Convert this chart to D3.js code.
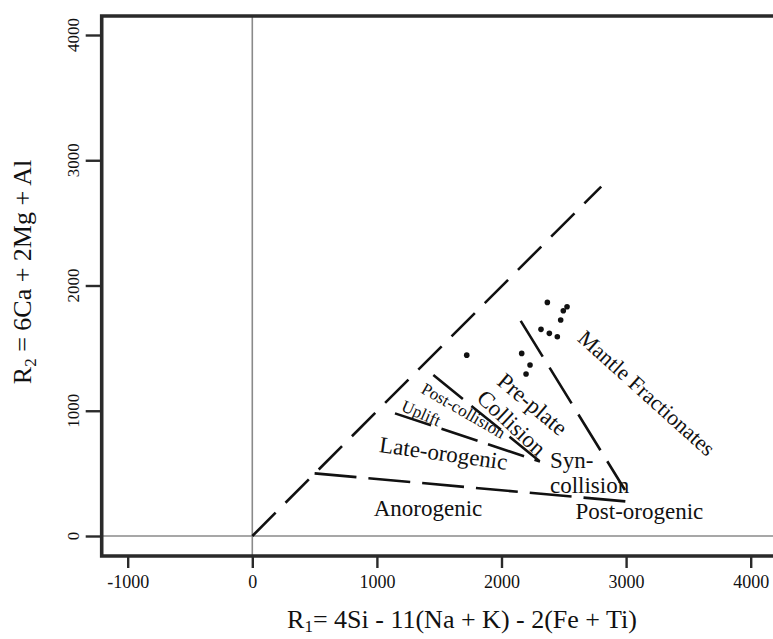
<!DOCTYPE html>
<html><head><meta charset="utf-8">
<script src="https://cdn.jsdelivr.net/npm/d3@7"></script>
<style>
body{margin:0;background:#fff}
svg{display:block}
text{font-family:"Liberation Serif","Times New Roman",serif;fill:#111}
</style>
</head><body>
<svg id="c" width="773" height="639"></svg>
<script>
// ---- data ----
const xTicks = [-1000, 0, 1000, 2000, 3000, 4000];
const yTicks = [0, 1000, 2000, 3000, 4000];
const sampleR1 = [2368, 2526, 2496, 2475, 2317, 2384, 2448, 1721, 2162, 2229, 2197];
const sampleR2 = [1865, 1830, 1798, 1724, 1650, 1618, 1591, 1444, 1458, 1365, 1293];
const boundaryNames = ["diagonal", "base", "mantle", "uplift", "postCollision"];
const boundaryX1 = [0, 500, 2154, 1145, 1453];
const boundaryY1 = [0, 500, 1718, 979, 1285];
const boundaryX2 = [2800, 3018, 2991, 2309, 2309];
const boundaryY2 = [2790, 274, 367, 595, 595];
const fieldNames = ["Anorogenic", "Post-orogenic", "Syn-", "collision", "Late-orogenic", "Uplift", "Post-collision", "Collision", "Pre-plate", "Mantle Fractionates"];
const fieldR1 = [1410, 3107, 2389, 2389, 1526, 1337, 1671, 2038, 2208, 3125];
const fieldR2 = [156, 134, 540, 341, 600, 939, 962, 858, 1005, 1097];

// ---- styles ----
const fieldStyle = [
  {a:0, s:23, anchor:"middle"}, {a:0, s:23, anchor:"middle"},
  {a:0, s:23, anchor:"start"}, {a:0, s:23, anchor:"start"},
  {a:8, s:23, anchor:"middle"}, {a:24, s:17, anchor:"middle"},
  {a:30, s:17, anchor:"middle"}, {a:43, s:23, anchor:"middle"},
  {a:40, s:23, anchor:"middle"}, {a:42, s:22, anchor:"middle"}
];
const dashStyle = ["33,14", "42,12", "42,13", "38,11", "38,11"];

const svg = d3.select("#c");
const x = d3.scaleLinear().domain([-1000, 4000]).range([127.7, 750.7]);
const y = d3.scaleLinear().domain([0, 4000]).range([536, 35]);

const frameXMin = x.invert(101.7), frameXMax = x.invert(790);
const frameYMin = y.invert(556), frameYMax = y.invert(16);

// reference lines at zero
svg.append("line").attr("x1", x(0)).attr("x2", x(0)).attr("y1", y(frameYMax)).attr("y2", y(frameYMin))
  .attr("stroke", "#8a8a8a").attr("stroke-width", 1.6);
svg.append("line").attr("x1", x(frameXMin)).attr("x2", x(frameXMax)).attr("y1", y(0)).attr("y2", y(0))
  .attr("stroke", "#8a8a8a").attr("stroke-width", 1.6);

// boundaries
svg.append("g").selectAll("line").data(boundaryNames).join("line")
  .attr("x1", (d,i) => x(boundaryX1[i])).attr("y1", (d,i) => y(boundaryY1[i]))
  .attr("x2", (d,i) => x(boundaryX2[i])).attr("y2", (d,i) => y(boundaryY2[i]))
  .attr("stroke", "#111").attr("stroke-width", 2.6)
  .attr("stroke-dasharray", (d,i) => dashStyle[i]);

// samples
svg.append("g").selectAll("circle").data(sampleR1).join("circle")
  .attr("cx", (d) => x(d)).attr("cy", (d,i) => y(sampleR2[i])).attr("r", 2.8).attr("fill", "#111");

// field labels
svg.append("g").selectAll("text").data(fieldNames).join("text")
  .attr("transform", (d,i) => `translate(${x(fieldR1[i])},${y(fieldR2[i])}) rotate(${fieldStyle[i].a})`)
  .attr("text-anchor", (d,i) => fieldStyle[i].anchor)
  .style("font-size", (d,i) => fieldStyle[i].s + "px")
  .text(d => d);

// frame
const frame = svg.append("g").attr("stroke", "#2a2a2a").attr("stroke-width", 3.6).attr("fill", "none");
frame.append("path").attr("d",
  `M${x(frameXMax)},${y(frameYMax)} L${x(frameXMin)},${y(frameYMax)} L${x(frameXMin)},${y(frameYMin)} L${x(frameXMax)},${y(frameYMin)}`)
  .attr("stroke-linecap", "square");

// x axis ticks
const xAxis = d3.axisBottom(x).tickValues(xTicks).tickSize(12).tickPadding(7).tickFormat(d3.format("d"));
const gx = svg.append("g").attr("transform", `translate(0,${y(frameYMin)})`).call(xAxis);
gx.select(".domain").remove();
gx.selectAll(".tick line").attr("stroke", "#2a2a2a").attr("stroke-width", 2.4);
gx.selectAll(".tick text").attr("fill", "#111").style("font-size", "18px")
  .style("font-family", '"Liberation Serif","Times New Roman",serif').text(d => d < 0 ? "-" + Math.abs(d) : d);

// y axis ticks
const yAxis = d3.axisLeft(y).tickValues(yTicks).tickSize(16).tickFormat("");
const gy = svg.append("g").attr("transform", `translate(${x(frameXMin)},0)`).call(yAxis);
gy.select(".domain").remove();
gy.selectAll(".tick line").attr("stroke", "#2a2a2a").attr("stroke-width", 2.4);
svg.append("g").selectAll("text").data(yTicks).join("text")
  .attr("transform", d => `translate(79,${y(d)}) rotate(-90)`)
  .attr("text-anchor", "middle").style("font-size", "17px").text(d => d);

// axis titles
const xt = svg.append("text").attr("x", 462).attr("y", 628).attr("text-anchor", "middle").style("font-size", "26px");
xt.append("tspan").text("R");
xt.append("tspan").attr("dy", 4).style("font-size", "17px").text("1");
xt.append("tspan").attr("dy", -4).text("= 4Si - 11(Na + K) - 2(Fe + Ti)");

const yt = svg.append("text").attr("transform", "translate(31,272) rotate(-90)").attr("text-anchor", "middle").style("font-size", "26px");
yt.append("tspan").text("R");
yt.append("tspan").attr("dy", 5).style("font-size", "17px").text("2");
yt.append("tspan").attr("dy", -5).text(" = 6Ca + 2Mg + Al");
</script>
</body></html>
